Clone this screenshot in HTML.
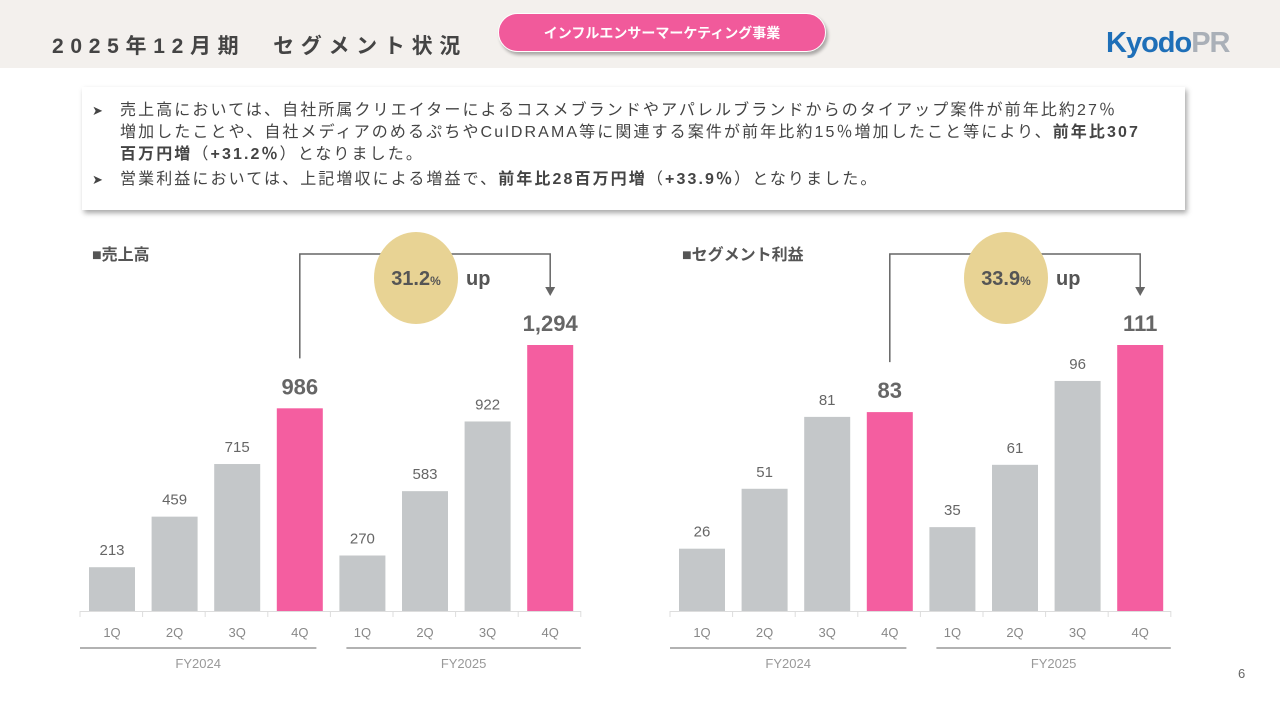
<!DOCTYPE html>
<html><head><meta charset="utf-8">
<style>
body{margin:0;width:1280px;height:720px;background:#fff;position:relative;overflow:hidden;font-family:"Liberation Sans","Noto Sans CJK JP",sans-serif;}
.hdr{position:absolute;left:0;top:0;width:1280px;height:68px;background:#f3f0ed;}
.title{position:absolute;left:52px;top:30px;font-size:21px;font-weight:bold;color:#444;letter-spacing:6.7px;}
.pill{position:absolute;left:498px;top:13px;width:328px;height:39px;border-radius:20px;background:#f15a9b;color:#fff;font-size:14px;font-weight:bold;text-align:center;line-height:39px;box-shadow:2px 3px 3px rgba(0,0,0,.3);border:1px solid #fff;box-sizing:border-box;}
.logo{position:absolute;left:1106px;top:27px;font-size:29px;font-weight:bold;letter-spacing:-1px;}
.box{position:absolute;left:82px;top:87px;width:1103px;height:123px;background:#fff;box-shadow:2px 3px 5px rgba(0,0,0,.35);}
.box p{margin:0;position:absolute;left:38px;font-size:16px;letter-spacing:2.1px;color:#444;line-height:22px;white-space:nowrap;}
.box .ar{position:absolute;left:10px;font-size:13px;color:#444;}
.page{position:absolute;left:1238px;top:666px;font-size:13px;color:#666;}
</style></head><body>
<div class="hdr"></div>
<div class="title">2025年12月期　セグメント状況</div>
<div class="pill">インフルエンサーマーケティング事業</div>
<div class="logo"><span style="color:#1e6fb8">Kyodo</span><span style="color:#aab0b8">PR</span></div>
<div class="box">
<span class="ar" style="top:16px">➤</span>
<p style="top:13px">売上高においては、自社所属クリエイターによるコスメブランドやアパレルブランドからのタイアップ案件が前年比約27％<br>増加したことや、自社メディアのめるぷちやCulDRAMA等に関連する案件が前年比約15％増加したこと等により、<b>前年比307</b><br><b>百万円増</b>（<b>+31.2％</b>）となりました。</p>
<span class="ar" style="top:85px">➤</span>
<p style="top:82px">営業利益においては、上記増収による増益で、<b>前年比28百万円増</b>（<b>+33.9％</b>）となりました。</p>
</div>
<svg id="charts" width="1280" height="720" style="position:absolute;left:0;top:0"></svg>
<div class="page">6</div>
<script>
const quarters=["1Q","2Q","3Q","4Q","1Q","2Q","3Q","4Q"];
const years=["FY2024","FY2025"];
const salesValues=[213,459,715,986,270,583,922,1294];
const salesLabels=["213","459","715","986","270","583","922","1,294"];
const profitValues=[26,51,81,83,35,61,96,111];
const profitLabels=["26","51","81","83","35","61","96","111"];
const salesGrowth="31.2";
const profitGrowth="33.9";
const NS="http://www.w3.org/2000/svg";
const svg=document.getElementById('charts');
function mk(tag,attrs,text,parent){const e=document.createElementNS(NS,tag);for(const k in attrs)e.setAttribute(k,attrs[k]);if(text!=null)e.textContent=text;(parent||svg).appendChild(e);return e;}
function chart(x0,title,values,labels,growth,pfx){
  const g=mk('g',{});
  
  
  const base=611,step=62.6,bw=46,maxH=266;
  const maxV=Math.max(...values);
  const y=v=>base-v/maxV*maxH;
  const cx=i=>x0+32+i*step;
  const t=mk('text',{x:x0+12,y:260,'font-size':16,'font-weight':'bold',fill:'#555'},'■'+title,g);
  
  
  const ax=mk('line',{x1:x0,x2:x0+step*8,y1:base+0.5,y2:base+0.5,stroke:'#ddd','stroke-width':1},null,g);
  
  
  for(let k=0;k<=8;k++)mk('line',{x1:x0+k*step,x2:x0+k*step,y1:base,y2:base+6,stroke:'#ddd'},null,g);
  values.forEach((v,i)=>{
    const hi=i%4===3;
    const r=mk('rect',{x:cx(i)-bw/2,y:y(v),width:bw,height:base-y(v),fill:hi?'#f45ea0':'#c4c7c9'},null,g);
    
    
    const l=mk('text',{x:cx(i),y:y(v)-(hi?14:12),'text-anchor':'middle','font-size':hi?22:15,'font-weight':hi?'bold':'normal',fill:'#666'},labels[i],g);
    
    
    const q=mk('text',{x:cx(i),y:637,'text-anchor':'middle','font-size':13,fill:'#888'},quarters[i],g);
    
    
  });
  years.forEach((yr,j)=>{
    const a=x0+j*4*step+(j?16:0), b=x0+(j*4+4)*step-(j?0:14);
    mk('line',{x1:a,x2:b,y1:648,y2:648,stroke:'#999','stroke-width':1.5},null,g);
    const yl=mk('text',{x:(a+b)/2,y:668,'text-anchor':'middle','font-size':13,fill:'#999'},yr,g);
    
    
  });
  const xa=cx(3),xb=cx(7);
  const br=mk('path',{d:`M${xa} ${y(values[3])-50}V254H${xb}V288`,fill:'none',stroke:'#666','stroke-width':1.5},null,g);
  
  
  mk('path',{d:`M${xb-5} 287L${xb+5} 287L${xb} 296Z`,fill:'#666'},null,g);
  const ccx=(xa+xb)/2-9;
  const c=mk('ellipse',{cx:ccx,cy:278,rx:42,ry:46,fill:'#e8d394'},null,g);
  
  
  const gt=mk('text',{x:ccx,y:285,'text-anchor':'middle','font-size':20,'font-weight':'bold',fill:'#555'},null,g);
  
  
  mk('tspan',{},growth,gt);mk('tspan',{'font-size':12},'%',gt);
  mk('text',{x:ccx+50,y:285,'font-size':20,'font-weight':'bold',fill:'#555'},'up',g);
}
chart(80,'売上高',salesValues,salesLabels,salesGrowth,'sales');
chart(670,'セグメント利益',profitValues,profitLabels,profitGrowth,'profit');
</script>
</body></html>
